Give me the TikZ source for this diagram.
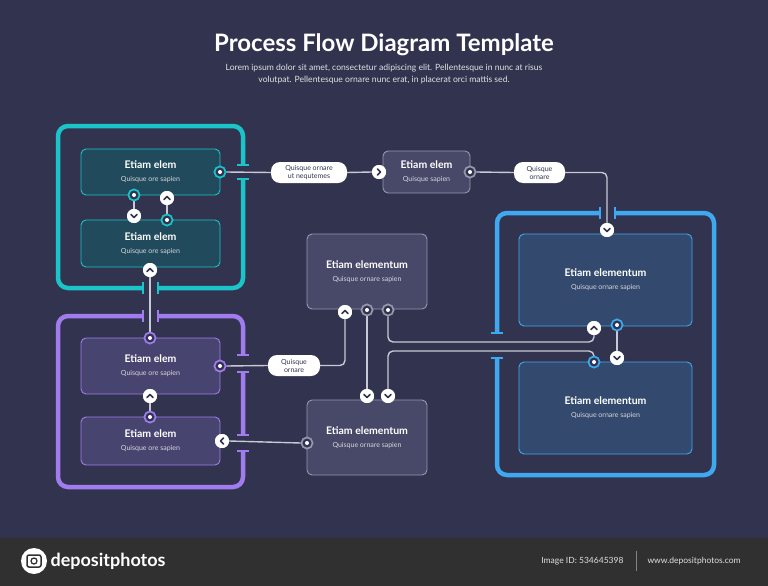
\documentclass[tikz,border=0pt]{standalone}
\usepackage{fontspec}
\setmainfont{Lato}
\begin{document}
\begin{tikzpicture}[x=1pt,y=-1pt,
  box/.style={draw,rounded corners=5pt,line width=0.9pt,align=center,text=white,inner sep=0pt},
  ring/.style={circle,draw=#1,fill=bg,line width=1.6pt,minimum size=11pt,inner sep=0pt,
     path picture={\fill[white] (path picture bounding box.center) circle (2pt);}},
  chev/.style={circle,fill=white,minimum size=14pt,inner sep=0pt},
  conn/.style={draw=lineg,line width=1.4pt,rounded corners=5pt},
  pill/.style={fill=white,rounded corners=9pt,text=bg,font=\fontsize{7}{8}\selectfont,align=center,minimum height=21pt,inner sep=2pt},
  frame/.style={line width=4.5pt,rounded corners=10pt},
  tick/.style={line width=1.6pt}]
\definecolor{bg}{RGB}{50,52,79}
\definecolor{foot}{RGB}{48,48,48}
\definecolor{lineg}{RGB}{200,200,214}
\definecolor{teal}{RGB}{26,196,200}
\definecolor{tealf}{RGB}{33,74,92}
\definecolor{purp}{RGB}{160,124,238}
\definecolor{purpf}{RGB}{72,68,112}
\definecolor{blu}{RGB}{62,168,240}
\definecolor{bluf}{RGB}{51,74,110}
\definecolor{gryf}{RGB}{72,73,105}
\definecolor{gryd}{RGB}{150,150,175}
\newcommand{\txt}[2]{{\fontsize{10.5}{11}\bfseries #1}\\[1pt]{\fontsize{7}{8}\selectfont\color{white!80!bg} #2}}
\newcommand{\chD}[1]{\draw[bg,line width=1.5pt,line cap=round,line join=round] ([shift={(-3,-1.5)}]#1.center)--([shift={(0,1.5)}]#1.center)--([shift={(3,-1.5)}]#1.center);}
\newcommand{\chU}[1]{\draw[bg,line width=1.5pt,line cap=round,line join=round] ([shift={(-3,1.5)}]#1.center)--([shift={(0,-1.5)}]#1.center)--([shift={(3,1.5)}]#1.center);}
\newcommand{\chR}[1]{\draw[bg,line width=1.5pt,line cap=round,line join=round] ([shift={(-1.5,-3)}]#1.center)--([shift={(1.5,0)}]#1.center)--([shift={(-1.5,3)}]#1.center);}
\newcommand{\chL}[1]{\draw[bg,line width=1.5pt,line cap=round,line join=round] ([shift={(1.5,-3)}]#1.center)--([shift={(-1.5,0)}]#1.center)--([shift={(1.5,3)}]#1.center);}
\newcommand{\gapV}[4]{\fill[bg] (#1-4,#2) rectangle (#1+4,#3);
  \draw[#4,tick] (#1-6,#2)--(#1+6,#2); \draw[#4,tick] (#1-6,#3)--(#1+6,#3);}
\newcommand{\gapH}[4]{\fill[bg] (#2,#1-4) rectangle (#3,#1+4);
  \draw[#4,tick] (#2,#1-6)--(#2,#1+6); \draw[#4,tick] (#3,#1-6)--(#3,#1+6);}
\fill[bg] (0,0) rectangle (768,586);
\fill[foot] (0,538) rectangle (768,586);
\useasboundingbox (0,0) rectangle (768,586);
% title
\node[text=white,font=\fontsize{24}{26}\bfseries] (title) at (384,45) {Process Flow Diagram Template};
\node[text=white!85!bg,font=\fontsize{8.6}{12.5}\selectfont,align=center] (sub) at (384,74) {Lorem ipsum dolor sit amet, consectetur adipiscing elit. Pellentesque in nunc at risus\\volutpat. Pellentesque ornare nunc erat, in placerat orci mattis sed.};
% frames
\draw[teal,frame] (58,126) rectangle (243,288);
\draw[purp,frame] (58,316) rectangle (243,487);
\draw[blu,frame] (497,213) rectangle (714,475);
\gapV{243}{165}{179}{teal}
\gapH{288}{143}{158}{teal}
\gapH{316}{143}{158}{purp}
\gapV{243}{355}{372}{purp}
\gapV{243}{435}{451}{purp}
\gapH{213}{600}{615}{blu}
\gapV{497}{333}{358}{blu}
% boxes
\node[box,draw=teal,fill=tealf,minimum width=139pt,minimum height=46pt] (t1) at (150.5,172) {\txt{Etiam elem}{Quisque ore sapien}};
\node[box,draw=teal,fill=tealf,minimum width=139pt,minimum height=47pt] (t2) at (150.5,243.5) {\txt{Etiam elem}{Quisque ore sapien}};
\node[box,draw=purp,fill=purpf,minimum width=139pt,minimum height=56pt] (p1) at (150.5,366) {\txt{Etiam elem}{Quisque ore sapien}};
\node[box,draw=purp,fill=purpf,minimum width=139pt,minimum height=48pt] (p2) at (150.5,441) {\txt{Etiam elem}{Quisque ore sapien}};
\node[box,draw=gryd,fill=gryf,minimum width=87pt,minimum height=42pt] (g0) at (426.5,172) {\txt{Etiam elem}{Quisque sapien}};
\node[box,draw=gryd,fill=gryf,minimum width=120pt,minimum height=75pt] (g1) at (367,271.5) {\txt{Etiam elementum}{Quisque ornare sapien}};
\node[box,draw=gryd,fill=gryf,minimum width=120pt,minimum height=75pt] (g2) at (367,437.5) {\txt{Etiam elementum}{Quisque ornare sapien}};
\node[box,draw=blu,fill=bluf,minimum width=173pt,minimum height=92pt] (b1) at (605.5,280) {\txt{Etiam elementum}{Quisque ornare sapien}};
\node[box,draw=blu,fill=bluf,minimum width=173pt,minimum height=92pt] (b2) at (605.5,408) {\txt{Etiam elementum}{Quisque ornare sapien}};
% pills
\node[pill,minimum width=76pt] (q1) at (309,172.5) {Quisque ornare\\ut nequtemes};
\node[pill,minimum width=51pt] (q2) at (539.5,172.5) {Quisque\\ornare};
\node[pill,minimum width=52pt] (q3) at (294,365.5) {Quisque\\ornare};
% markers
\node[ring=teal] (r1) at (220,172) {};
\node[ring=teal] (r2) at (134,195) {};
\node[chev] (c2) at (134,216) {};
\node[chev] (c3) at (167,198) {};
\node[ring=teal] (r3) at (167,220) {};
\node[chev] (c4) at (150,270) {};
\node[ring=purp] (r4) at (150,338) {};
\node[ring=purp] (r5) at (220,366) {};
\node[chev] (c5) at (150,396) {};
\node[ring=purp] (r6) at (150,417) {};
\node[chev] (c6) at (222,441) {};
\node[chev] (c7) at (379,172) {};
\node[ring=gryd] (r7) at (470,172) {};
\node[chev] (c8) at (607,230) {};
\node[chev] (c9) at (345,312) {};
\node[ring=gryd] (r8) at (367,310) {};
\node[ring=gryd] (r9) at (388,310) {};
\node[chev] (c10) at (594,328) {};
\node[ring=blu] (r10) at (617,325) {};
\node[chev] (c11) at (617,358) {};
\node[ring=blu] (r11) at (594,362) {};
\node[chev] (c12) at (367,396) {};
\node[chev] (c13) at (388,396) {};
\node[ring=gryd] (r12) at (307,443) {};
% connectors
\path[conn] (r1.east)--(q1.west);
\path[conn] (q1.east)--(c7.west);
\path[conn] (r7.east)--(q2.west);
\path[conn] (q2.east)--(607,172.5)--(c8.north);
\path[conn] (r2.south)--(c2.north);
\path[conn] (c3.south)--(r3.north);
\path[conn] (c4.south)--(r4.north);
\path[conn] (c5.south)--(r6.north);
\path[conn] (r5.east)--(q3.west);
\path[conn] (q3.east)--(345,365.5)--(c9.south);
\path[conn] (r12.west)--(c6.east);
\path[conn] (r8.south)--(c12.north);
\path[conn] (r9.south)--(388,342)--(594,342)--(c10.south);
\path[conn] (r11.north)--(594,351)--(388,351)--(c13.north);
\path[conn] (r10.south)--(c11.north);
% redraw markers on top
\node[ring=teal] at (220,172) {};\node[ring=teal] at (134,195) {};\node[ring=teal] at (167,220) {};
\node[ring=purp] at (150,338) {};\node[ring=purp] at (220,366) {};\node[ring=purp] at (150,417) {};
\node[ring=gryd] at (470,172) {};\node[ring=gryd] at (367,310) {};\node[ring=gryd] at (388,310) {};\node[ring=gryd] at (307,443) {};
\node[ring=blu] at (617,325) {};\node[ring=blu] at (594,362) {};
\foreach \n in {c2,c3,c4,c5,c6,c7,c8,c9,c10,c11,c12,c13}{\node[chev] at (\n) {};}
\chD{c2}\chU{c3}\chU{c4}\chU{c5}\chL{c6}\chR{c7}\chD{c8}\chU{c9}\chU{c10}\chD{c11}\chD{c12}\chD{c13}
% footer
\node[circle,fill=white,minimum size=26pt,inner sep=0pt] (logo) at (34,561) {};
\draw[foot,line width=1.5pt,rounded corners=2pt] (27,555) rectangle (41,567);
\draw[foot,line width=1.3pt] (34,561) circle (3pt);
\node[anchor=west,text=white,font=\fontsize{18}{19}\bfseries] (brand) at (47,561) {depositphotos};
\node[anchor=east,text=white!85!foot,font=\fontsize{8.5}{9}\selectfont] (iid) at (627,561) {Image ID: 534645398};
\draw[white!40!foot,line width=0.6pt] (636,551)--(636,571);
\node[anchor=west,text=white!85!foot,font=\fontsize{8.5}{9}\selectfont] (www) at (644,561) {www.depositphotos.com};
\end{tikzpicture}
\end{document}
